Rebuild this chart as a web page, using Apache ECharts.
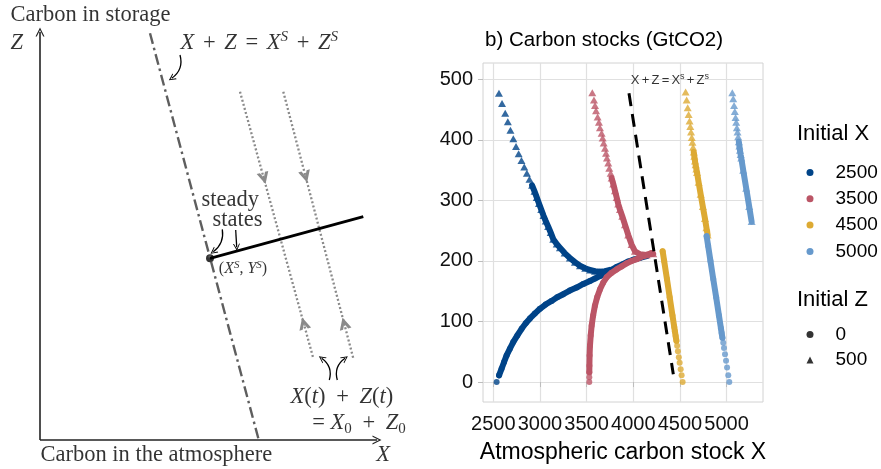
<!DOCTYPE html>
<html>
<head>
<meta charset="utf-8">
<title>Carbon stocks</title>
<script src="https://cdn.jsdelivr.net/npm/echarts@6/dist/echarts.min.js"></script>
<style>
  html, body { margin: 0; padding: 0; background: #fff; }
  #chart { width: 881px; height: 469px; }
</style>
</head>
<body>
<div id="chart"></div>
<script>
// ---------- b) carbon stocks (GtCO2) ----------
var initialX = ['2500', '3500', '4500', '5000'];
var initialZ = ['0', '500'];
var xTicks = [2500, 3000, 3500, 4000, 4500, 5000];
var yTicks = [0, 100, 200, 300, 400, 500];

// Z0 = 0 runs (circles)
var x2500z0 = [2536, 2562, 2589, 2616, 2643, 2678, 2714, 2758, 2804, 2848, 2893, 2945, 3000, 3060, 3125, 3185, 3250, 3320, 3393, 3465, 3536, 3590, 3643, 3697, 3750, 3820, 3893, 3946, 4000, 4070, 4143];
var z2500z0 = [0, 11, 22, 33, 44, 55, 66, 77, 88, 97, 105, 113, 121, 128, 134, 140, 145, 151, 156, 162, 167, 171, 175, 180, 184, 190, 195, 199, 202, 205, 208];
var x3500z0 = [3529, 3529, 3529, 3530, 3532, 3536, 3544, 3554, 3570, 3589, 3613, 3643, 3677, 3714, 3765, 3821, 3875, 3929, 3982, 4036, 4110, 4196];
var z3500z0 = [0, 8, 16, 27, 44, 60, 77, 93, 110, 126, 140, 153, 164, 173, 180, 186, 191, 196, 200, 203, 208, 213];
var x4500z0 = [4529, 4518, 4508, 4497, 4488, 4478, 4470, 4462, 4454, 4446, 4439, 4420, 4390, 4361, 4331, 4315];
var z4500z0 = [0, 11, 21, 32, 41, 51, 60, 68, 76, 84, 91, 110, 140, 170, 200, 216];
var x5000z0 = [5029, 5018, 5005, 4994, 4983, 4972, 4964, 4955, 4947, 4939, 4918, 4888, 4857, 4827, 4802, 4786];
var z5000z0 = [0, 11, 24, 35, 46, 56, 65, 73, 81, 89, 110, 140, 170, 200, 225, 241];

// Z0 = 500 runs (triangles)
var x2500z500 = [2561, 2594, 2628, 2656, 2684, 2715, 2744, 2772, 2802, 2832, 2860, 2888, 2916, 2942, 2966, 2990, 3014, 3038, 3062, 3088, 3115, 3143, 3180, 3214, 3265, 3321, 3375, 3429, 3485, 3536, 3590, 3643, 3697, 3750];
var z2500z500 = [477, 460, 444, 430, 416, 402, 389, 377, 366, 355, 345, 335, 325, 315, 305, 295, 285, 275, 266, 257, 247, 236, 228, 222, 213, 205, 198, 192, 188, 185, 183, 182, 183, 185];
var x3500z500 = [3561, 3579, 3590, 3601, 3618, 3632, 3643, 3661, 3672, 3683, 3697, 3708, 3718, 3732, 3743, 3758, 3768, 3786, 3804, 3822, 3839, 3857, 3882, 3911, 3946, 3982, 4018, 4072, 4143, 4214];
var z3500z500 = [478, 466, 457, 448, 438, 429, 420, 411, 403, 395, 386, 378, 370, 362, 353, 345, 337, 327, 316, 305, 294, 285, 274, 260, 243, 227, 216, 211, 210, 212];
var x4500z500 = [4561, 4572, 4583, 4593, 4603, 4611, 4619, 4627, 4634, 4641, 4648, 4654, 4661, 4668, 4676, 4683, 4700, 4722, 4745, 4768, 4784, 4797];
var z4500z500 = [479, 466, 453, 442, 431, 422, 413, 404, 396, 388, 380, 373, 365, 359, 352, 346, 330, 310, 290, 270, 255, 243];
var x5000z500 = [5061, 5071, 5080, 5088, 5096, 5103, 5110, 5117, 5124, 5131, 5137, 5143, 5150, 5157, 5178, 5210, 5242, 5268];
var z5000z500 = [478, 468, 457, 447, 437, 429, 420, 413, 405, 397, 390, 383, 376, 370, 350, 320, 290, 265];

// X + Z = X^s + Z^s line
var isoX = [3954, 4429];
var isoZ = [477, 13];

// ---------- a) schematic, units measured from the axes corner ----------
var zAxisLine = [[0, 0], [0, 408]];
var xAxisLine = [[0, 0], [337, 0]];
var isoLine = [[110, 406.7], [218.3, 1.7]];
var runA = [[200, 348.3], [273.3, 81.7]];
var runB = [[243.3, 348.3], [313.3, 81.7]];
var steadyLine = [[170, 181.7], [323.3, 223.3]];
var steadyPoint = [170, 181.7];
var runHeads = [
    [[223.3, 264.3], [224, 261.7]],
    [[264.9, 265.9], [265.6, 263.3]],
    [[264.4, 114.1], [263.7, 116.7]],
    [[304.8, 114.1], [304.1, 116.7]]
];
var noteArrows = [
    [[140, 385], [131.7, 361.7]],
    [[182.3, 210.7], [173.3, 188.3]],
    [[195.7, 210], [196.7, 192.7]],
    [[289.3, 60], [281.7, 81.7]],
    [[297.3, 60], [305, 81.7]]
];
var noteBends = [0.35, 0.3, 0, -0.35, 0.35];

var colors = ['#004488', '#BB5566', '#DDAA33', '#6699CC'];
var SANS = 'Liberation Sans';
var SERIF = 'Liberation Serif';
var headThin = 'path://M0,10L5,0L10,10L8.6,10L5,2.8L1.4,10Z';
var headThick = 'path://M0,10L5,0L10,10L7.2,10L5,5.4L2.8,10Z';

function zip(xs, zs) {
    return xs.map(function (x, i) { return [x, zs[i]]; });
}

// a run = thick band where points crowd + the individual markers
function run(k, xs, zs, symbol, bandFrom) {
    var pts = zip(xs, zs);
    return [{
        name: initialX[k], type: 'line', data: pts.slice(bandFrom),
        symbol: 'none', silent: true, z: 2 + k * 2,
        itemStyle: { color: colors[k] },
        lineStyle: { color: colors[k], width: 6, cap: 'round', join: 'round' }
    }, {
        name: initialX[k], type: 'scatter', data: pts, silent: true, z: 3 + k * 2,
        symbol: symbol, symbolSize: symbol === 'triangle' ? [8, 7] : 6,
        itemStyle: { color: colors[k] }
    }];
}

var series = [];
series = series.concat(
    run(0, x2500z0, z2500z0, 'circle', 1),
    run(0, x2500z500, z2500z500, 'triangle', 12),
    run(1, x3500z0, z3500z0, 'circle', 2),
    run(1, x3500z500, z3500z500, 'triangle', 16),
    run(2, x4500z0, z4500z0, 'circle', 7),
    run(2, x4500z500, z4500z500, 'triangle', 10),
    run(3, x5000z0, z5000z0, 'circle', 7),
    run(3, x5000z500, z5000z500, 'triangle', 9)
);

// shape legend only
series.push({ name: initialZ[0], type: 'scatter', data: [], symbol: 'circle', itemStyle: { color: '#000' } });
series.push({ name: initialZ[1], type: 'scatter', data: [], symbol: 'triangle', itemStyle: { color: '#000' } });

series.push({
    type: 'line', data: zip(isoX, isoZ), symbol: 'none', silent: true, z: 12,
    lineStyle: { color: '#000', width: 3, type: [13, 8] }
});
series.push({
    type: 'scatter', data: [[4393, 499]], symbolSize: 1, silent: true, z: 12,
    itemStyle: { color: 'rgba(0,0,0,0)' },
    label: {
        show: true, position: 'inside',
        formatter: '{a|X}{p|+}{a|Z}{p|=}{a|X}{s|s}{p|+}{a|Z}{s|s}',
        rich: {
            a: { fontFamily: SANS, fontSize: 13, color: '#000', lineHeight: 16 },
            p: { fontFamily: SANS, fontSize: 13, color: '#000', lineHeight: 16, width: 12, align: 'center' },
            s: { fontFamily: SANS, fontSize: 9, color: '#000', lineHeight: 9, verticalAlign: 'top' }
        }
    }
});

// ---------- schematic ----------
var sch = { xAxisIndex: 1, yAxisIndex: 1, silent: true };
function schem(o) { return Object.assign({}, sch, o); }

series.push(schem({
    type: 'lines', coordinateSystem: 'cartesian2d',
    data: [{ coords: zAxisLine }, { coords: xAxisLine }],
    symbol: ['none', headThin], symbolSize: [10, 9],
    lineStyle: { color: '#222', width: 1.6, opacity: 1 }
}));
series.push(schem({
    type: 'line', data: isoLine, symbol: 'none',
    lineStyle: { color: '#5e5e5e', width: 2.4, type: [11, 4, 2.5, 4] }
}));
series.push(schem({
    type: 'line', data: runA, symbol: 'none',
    lineStyle: { color: '#8a8a8a', width: 2.3, type: [2, 2.2] }
}));
series.push(schem({
    type: 'line', data: runB, symbol: 'none',
    lineStyle: { color: '#8a8a8a', width: 2.3, type: [2, 2.2] }
}));
series.push(schem({
    type: 'lines', coordinateSystem: 'cartesian2d',
    data: runHeads.map(function (c) { return { coords: c }; }),
    symbol: ['none', headThick], symbolSize: [16, 12],
    lineStyle: { color: '#8a8a8a', width: 1, opacity: 1 }
}));
series.push(schem({
    type: 'line', data: steadyLine, symbol: 'none',
    lineStyle: { color: '#000', width: 2.8 }
}));
series.push(schem({
    type: 'scatter', data: [steadyPoint], symbolSize: 8,
    itemStyle: { color: '#000' }
}));
series.push(schem({
    type: 'lines', coordinateSystem: 'cartesian2d',
    data: noteArrows.map(function (c, i) {
        return { coords: c, lineStyle: { curveness: noteBends[i] } };
    }),
    symbol: ['none', headThin], symbolSize: [8, 7],
    lineStyle: { color: '#000', width: 1.3, opacity: 1 }
}));

function op(w) {
    return { fontFamily: SERIF, fontSize: 22.5, color: '#000', lineHeight: 26, width: w, align: 'center' };
}
var rich = {
    r: { fontFamily: SERIF, fontSize: 22.5, color: '#000', lineHeight: 26 },
    o: op(30),
    oe: op(24),
    ow: op(34),
    i: { fontFamily: SERIF, fontSize: 22.5, fontStyle: 'italic', color: '#000', lineHeight: 26 },
    sup: { fontFamily: SERIF, fontSize: 15, fontStyle: 'italic', color: '#000', lineHeight: 14, verticalAlign: 'top' },
    sub: { fontFamily: SERIF, fontSize: 15, color: '#000', lineHeight: 12, verticalAlign: 'bottom' },
    sr: { fontFamily: SERIF, fontSize: 16, color: '#000', lineHeight: 18 },
    si: { fontFamily: SERIF, fontSize: 16, fontStyle: 'italic', color: '#000', lineHeight: 18 },
    ss: { fontFamily: SERIF, fontSize: 11, fontStyle: 'italic', color: '#000', lineHeight: 10, verticalAlign: 'top' }
};
function note(x, y, text, pos) {
    return { value: [x, y], label: { formatter: text, position: pos || 'right' } };
}
series.push(schem({
    type: 'scatter', symbolSize: 1, itemStyle: { color: 'rgba(0,0,0,0)' },
    label: { show: true, distance: 0, rich: rich },
    data: [
        note(-30, 425, '{r|Carbon in storage}'),
        note(-23.3, 396.7, '{i|Z}', 'inside'),
        note(0, -15, '{r|Carbon in the atmosphere}'),
        note(343, -15, '{i|X}', 'inside'),
        note(140, 397, '{i|X}{o|+}{i|Z}{o|=}{i|X}{sup|S}{o|+}{i|Z}{sup|S}'),
        note(190.3, 240, '{r|steady}', 'inside'),
        note(197.5, 220, '{r|states}', 'inside'),
        note(178.3, 171.7, '{sr|(}{si|X}{ss|S}{sr|, }{si|Y}{ss|S}{sr|)}'),
        note(250, 43.3, '{i|X}{r|(}{i|t}{r|)}{ow|+}{i|Z}{r|(}{i|t}{r|)}'),
        note(266, 16.7, '{oe|=}{i|X}{sub|0}{ow|+}{i|Z}{sub|0}')
    ]
}));

var tickFont = { fontFamily: SANS, fontSize: 20, color: '#111' };
function plain(v) { return String(v); }

var option = {
    animation: false,
    backgroundColor: '#fff',
    title: [
        { text: 'b) Carbon stocks (GtCO2)', left: 485, top: 30, padding: 0,
          textStyle: { fontFamily: SANS, fontSize: 20.5, fontWeight: 'normal', color: '#000' } },
        { text: 'Initial X', left: 797, top: 123, padding: 0,
          textStyle: { fontFamily: SANS, fontSize: 22, fontWeight: 'normal', color: '#000' } },
        { text: 'Initial Z', left: 797, top: 289, padding: 0,
          textStyle: { fontFamily: SANS, fontSize: 22, fontWeight: 'normal', color: '#000' } }
    ],
    legend: [{
        data: initialX.map(function (n) { return { name: n, icon: 'circle' }; }),
        orient: 'vertical', left: 806.5, top: 163, padding: 0,
        itemWidth: 7, itemHeight: 7, itemGap: 7.3, selectedMode: false,
        formatter: '{t|{name}}',
        textStyle: { rich: { t: { fontFamily: SANS, fontSize: 19, color: '#000', lineHeight: 22, padding: [0, 0, 0, 17] } } }
    }, {
        data: [{ name: initialZ[0], icon: 'circle' }, { name: initialZ[1], icon: 'triangle' }],
        orient: 'vertical', left: 806.5, top: 325, padding: 0,
        itemWidth: 7, itemHeight: 7, itemGap: 6.5, selectedMode: false,
        formatter: '{t|{name}}',
        textStyle: { rich: { t: { fontFamily: SANS, fontSize: 19, color: '#000', lineHeight: 22, padding: [0, 0, 0, 17] } } }
    }],
    grid: [
        { left: 483, right: 118, top: 63, bottom: 66, show: true, borderColor: '#D2D2D2', borderWidth: 1, containLabel: false },
        { left: 0, top: 0, width: 420, height: 469, show: false }
    ],
    xAxis: [{
        type: 'value', gridIndex: 0, min: 2390, max: 5390, minInterval: 500, maxInterval: 500,
        name: 'Atmospheric carbon stock X', nameLocation: 'middle', nameGap: 39,
        nameTextStyle: { fontFamily: SANS, fontSize: 23, color: '#000' },
        axisLine: { show: false },
        axisTick: { show: true, length: 5, lineStyle: { color: '#BDBDBD' }, customValues: xTicks },
        axisLabel: Object.assign({
            margin: 12, customValues: xTicks, formatter: plain, interval: 0,
            hideOverlap: false, showMinLabel: true, showMaxLabel: true
        }, tickFont),
        splitLine: { lineStyle: { color: '#E0E0E0', width: 1.2 } }
    }, {
        type: 'value', gridIndex: 1, min: -40, max: 380, show: false
    }],
    yAxis: [{
        type: 'value', gridIndex: 0, min: -33, max: 527, minInterval: 100, maxInterval: 100,
        axisLine: { show: false },
        axisTick: { show: true, length: 5, lineStyle: { color: '#BDBDBD' }, customValues: yTicks },
        axisLabel: Object.assign({
            margin: 10, customValues: yTicks, formatter: plain,
            showMinLabel: true, showMaxLabel: true
        }, tickFont),
        splitLine: { lineStyle: { color: '#E0E0E0', width: 1.2 } }
    }, {
        type: 'value', gridIndex: 1, min: -29, max: 440, show: false
    }],
    series: series
};

var myChart = echarts.init(document.getElementById('chart'));
myChart.setOption(option);
</script>
</body>
</html>
